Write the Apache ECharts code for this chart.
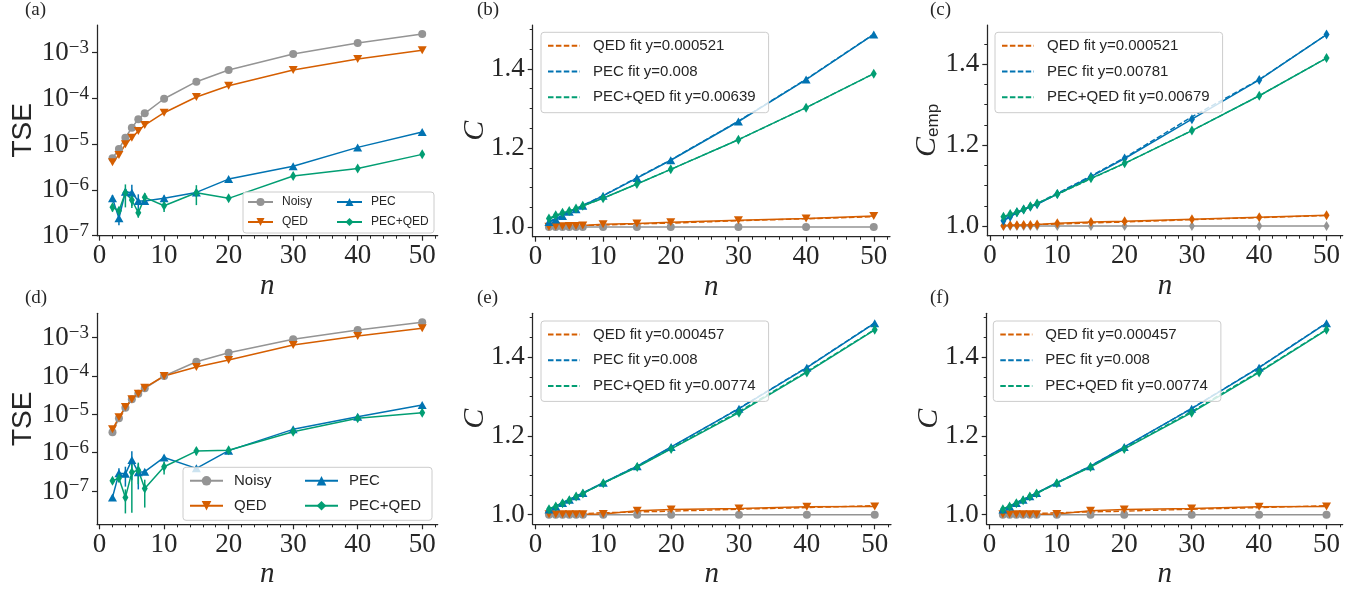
<!DOCTYPE html>
<html><head><meta charset="utf-8">
<script src="https://cdn.jsdelivr.net/npm/echarts@6/dist/echarts.min.js"></script>
<style>html,body{margin:0;padding:0;background:#fff}#c{width:1372px;height:591px}</style>
</head><body><div id="c"></div>
<script>
// ---------------- data ----------------
const nValues = [2, 3, 4, 5, 6, 7, 10, 15, 20, 30, 40, 50];
const xTickLabels = [0, 10, 20, 30, 40, 50];
const xMinorTicks = [2, 4, 6, 8, 12, 14, 16, 18, 22, 24, 26, 28, 32, 34, 36, 38, 42, 44, 46, 48, 52];
const logTickExps = [-7, -6, -5, -4, -3];
const cTickLabels = [1.0, 1.2, 1.4];
const cMinorTicks = [1.05, 1.1, 1.15, 1.25, 1.3, 1.35, 1.45, 1.5];
const seriesNames = ['Noisy', 'QED', 'PEC', 'PEC+QED'];

// (a) TSE
const tseNoisyA = [4.87e-6, 7.8e-6, 1.37e-5, 2.27e-5, 3.46e-5, 4.68e-5, 9.73e-5, 2.29e-4, 4.11e-4, 9.2e-4, 1.6e-3, 2.51e-3];
const tseQedA = [3.98e-6, 5.75e-6, 9.85e-6, 1.37e-5, 1.92e-5, 2.6e-5, 4.82e-5, 1.06e-4, 1.87e-4, 4.11e-4, 7.15e-4, 1.11e-3];
const tsePecA = [6.53e-7, 2.39e-7, 9.1e-7, 8.65e-7, 5.7e-7, 5.7e-7, 6.53e-7, 8.8e-7, 1.72e-6, 3.26e-6, 8.45e-6, 1.83e-5];
const tsePecErrA = [1.2e-7, 0.7e-7, 1.5e-7, 4.2e-7, 2.3e-7, 0.8e-7, 1.0e-7, 1.0e-7, 0.8e-7, 1.2e-7, 3e-7, 6e-7];
const tsePecQedA = [4.15e-7, 3.5e-7, 8.65e-7, 6.0e-7, 3.17e-7, 6.86e-7, 4.5e-7, 8.65e-7, 6.53e-7, 2.0e-6, 2.94e-6, 5.95e-6];
const tsePecQedErrA = [0.8e-7, 0.6e-7, 4.5e-7, 2.0e-7, 0.7e-7, 1.6e-7, 1.2e-7, 4.0e-7, 0.7e-7, 1.5e-7, 2e-7, 4e-7];

// (d) TSE
const tseNoisyD = [3.4e-6, 7.9e-6, 1.49e-5, 2.47e-5, 3.45e-5, 4.78e-5, 1.0e-4, 2.36e-4, 4.06e-4, 9.06e-4, 1.58e-3, 2.52e-3];
const tseQedD = [4.07e-6, 8.36e-6, 1.55e-5, 2.47e-5, 3.45e-5, 4.95e-5, 1.0e-4, 1.72e-4, 2.61e-4, 6.44e-4, 1.11e-3, 1.75e-3];
const tsePecD = [6.8e-8, 2.9e-7, 2.8e-7, 6.4e-7, 3.1e-7, 3.2e-7, 7.5e-7, 3.9e-7, 1.13e-6, 4.06e-6, 8.7e-6, 1.75e-5];
const tsePecErrD = [1.0e-8, 1.0e-7, 1.5e-7, 4.5e-7, 2.0e-7, 0.5e-7, 1.0e-7, 0.5e-7, 0.8e-7, 2e-7, 4e-7, 8e-7];
const tsePecQedD = [1.86e-7, 2.14e-7, 6.8e-8, 3.07e-7, 3.5e-7, 1.17e-7, 4.3e-7, 1.1e-6, 1.16e-6, 3.53e-6, 7.86e-6, 1.1e-5];
const tsePecQedErrD = [0.3e-7, 0.4e-7, 4.2e-8, 2.8e-7, 2.0e-7, 0.8e-7, 1.6e-7, 2.5e-7, 1.0e-7, 2e-7, 3e-7, 5e-7];

// (b) C
const cNoisyB = [1.0, 1.0, 1.0, 1.0, 1.0, 1.0, 1.0, 1.0, 1.0, 1.0, 1.0, 1.0];
const cQedB = [1.001, 1.002, 1.002, 1.003, 1.003, 1.004, 1.007, 1.009, 1.012, 1.017, 1.022, 1.028];
const cPecB = [1.013, 1.019, 1.028, 1.039, 1.045, 1.054, 1.079, 1.124, 1.169, 1.267, 1.373, 1.487];
const cPecQedB = [1.022, 1.030, 1.036, 1.041, 1.047, 1.054, 1.073, 1.109, 1.146, 1.221, 1.302, 1.388];
const fitQedB = [1.001, 1.002, 1.002, 1.003, 1.003, 1.004, 1.005, 1.008, 1.010, 1.016, 1.021, 1.026];
const fitPecB = [1.014, 1.022, 1.030, 1.039, 1.046, 1.055, 1.080, 1.125, 1.170, 1.268, 1.374, 1.488];
const fitPecQedB = [1.020, 1.027, 1.034, 1.040, 1.047, 1.053, 1.073, 1.109, 1.146, 1.221, 1.302, 1.388];

// (c) C_emp
const cNoisyC = [1.0, 1.0, 1.0, 1.0, 1.0, 1.0, 1.0, 1.0, 1.0, 1.0, 1.0, 1.0];
const cQedC = [1.001, 1.002, 1.002, 1.003, 1.003, 1.004, 1.007, 1.010, 1.012, 1.017, 1.022, 1.027];
const cPecC = [1.013, 1.023, 1.034, 1.041, 1.048, 1.054, 1.079, 1.122, 1.167, 1.264, 1.361, 1.473];
const cPecQedC = [1.023, 1.030, 1.034, 1.041, 1.049, 1.056, 1.079, 1.118, 1.155, 1.236, 1.322, 1.415];
const fitQedC = [1.001, 1.002, 1.002, 1.003, 1.003, 1.004, 1.005, 1.008, 1.010, 1.016, 1.021, 1.026];
const fitPecC = [1.016, 1.024, 1.032, 1.040, 1.048, 1.056, 1.081, 1.124, 1.169, 1.270, 1.362, 1.473];
const fitPecQedC = [1.021, 1.028, 1.034, 1.041, 1.048, 1.055, 1.078, 1.117, 1.155, 1.236, 1.322, 1.415];

// (e) and (f) C
const cNoisyE = [1.0, 1.0, 1.0, 1.0, 1.0, 1.0, 1.0, 1.0, 1.0, 1.0, 1.0, 1.0];
const cQedE = [1.001, 1.001, 1.001, 1.001, 1.001, 1.001, 1.002, 1.010, 1.013, 1.016, 1.020, 1.021];
const cPecE = [1.013, 1.021, 1.030, 1.038, 1.047, 1.055, 1.081, 1.123, 1.172, 1.269, 1.373, 1.486];
const cPecQedE = [1.014, 1.021, 1.029, 1.037, 1.046, 1.054, 1.080, 1.121, 1.167, 1.259, 1.361, 1.469];
const fitQedE = [1.001, 1.001, 1.002, 1.002, 1.003, 1.003, 1.005, 1.007, 1.009, 1.014, 1.018, 1.023];
const fitPecE = [1.014, 1.022, 1.031, 1.039, 1.047, 1.055, 1.081, 1.124, 1.171, 1.270, 1.374, 1.487];
const fitPecQedE = [1.015, 1.022, 1.030, 1.038, 1.046, 1.054, 1.080, 1.122, 1.168, 1.262, 1.363, 1.470];

const fitLabelsB = ['QED fit y=0.000521', 'PEC fit y=0.008', 'PEC+QED fit y=0.00639'];
const fitLabelsC = ['QED fit y=0.000521', 'PEC fit y=0.00781', 'PEC+QED fit y=0.00679'];
const fitLabelsE = ['QED fit y=0.000457', 'PEC fit y=0.008', 'PEC+QED fit y=0.00774'];
const panelLetters = ['(a)', '(b)', '(c)', '(d)', '(e)', '(f)'];

// ---------------- style / layout ----------------
const AX = '#262626';
const COL = { noisy: '#949494', qed: '#d55e00', pec: '#0173b2', pecqed: '#029e73' };
const DOWN = 'path://M0,0L10,0L5,8.66Z';
const grids = [
  [97, 25, 340.7, 210.7],
  [532.7, 25, 357.3, 211.7],
  [987.3, 25, 355.4, 210.7],
  [97, 313.3, 340.7, 211],
  [532.7, 313.3, 358.3, 211],
  [986.7, 313.3, 356, 211]
];
const letterPos = [[25, 1], [477, 1], [930, 1], [25, 289], [477, 289], [930, 289]];

const xAxes = [], yAxes = [], series = [], legends = [];

function addX(i) {
  xAxes.push({
    gridIndex: i, type: 'value', min: -0.4, max: 52.4, position: 'bottom',
    axisLine: { show: true, onZero: false, lineStyle: { color: AX, width: 1.25 } },
    axisTick: { show: true, customValues: xTickLabels, length: 5, lineStyle: { color: AX, width: 1.2 } },
    axisLabel: { show: true, customValues: xTickLabels, margin: 7, fontFamily: 'Liberation Serif', fontSize: 27, color: AX },
    splitLine: { show: false },
    name: 'n', nameLocation: 'middle', nameGap: 36, nameMoveOverlap: false,
    nameTextStyle: { fontFamily: 'Liberation Serif', fontStyle: 'italic', fontSize: 29, color: AX }
  });
  xAxes.push({
    gridIndex: i, type: 'value', min: -0.4, max: 52.4, position: 'bottom',
    axisLine: { show: false, onZero: false },
    axisTick: { show: true, customValues: xMinorTicks, length: 3, lineStyle: { color: AX, width: 1 } },
    axisLabel: { show: false }, splitLine: { show: false }
  });
}

function addLogY(i, lo, hi) {
  yAxes.push({
    gridIndex: i, type: 'log', logBase: 10, min: Math.pow(10, lo), max: Math.pow(10, hi), position: 'left',
    axisLine: { show: true, onZero: false, lineStyle: { color: AX, width: 1.25 } },
    axisTick: { show: false }, axisLabel: { show: false }, splitLine: { show: false }, minorTick: { show: false },
    name: 'TSE', nameLocation: 'middle', nameGap: 60, nameMoveOverlap: false,
    nameTextStyle: { fontFamily: 'Liberation Sans', fontSize: 28, color: AX }
  });
  yAxes.push({
    gridIndex: i, type: 'value', min: lo, max: hi, position: 'left',
    axisLine: { show: false, onZero: false },
    axisTick: { show: true, customValues: logTickExps, length: 5, lineStyle: { color: AX, width: 1.2 } },
    axisLabel: {
      show: true, customValues: logTickExps, margin: 8,
      formatter: v => '{b|10}{s|\u2212' + Math.abs(v) + '}',
      rich: {
        b: { fontFamily: 'Liberation Serif', fontSize: 27, color: AX, lineHeight: 28, verticalAlign: 'bottom' },
        s: { fontFamily: 'Liberation Serif', fontSize: 19, color: AX, lineHeight: 20, verticalAlign: 'top' }
      }
    },
    splitLine: { show: false }
  });
}

function addLinY(i, lo, hi, name, nameStyle, gap) {
  yAxes.push({
    gridIndex: i, type: 'value', min: lo, max: hi, position: 'left',
    axisLine: { show: true, onZero: false, lineStyle: { color: AX, width: 1.25 } },
    axisTick: { show: true, customValues: cTickLabels, length: 5, lineStyle: { color: AX, width: 1.2 } },
    axisLabel: { show: true, customValues: cTickLabels, margin: 8, formatter: v => v.toFixed(1), fontFamily: 'Liberation Serif', fontSize: 27, color: AX },
    splitLine: { show: false },
    name: name, nameLocation: 'middle', nameGap: gap, nameMoveOverlap: false, nameTextStyle: nameStyle
  });
  yAxes.push({
    gridIndex: i, type: 'value', min: lo, max: hi, position: 'left',
    axisLine: { show: false, onZero: false },
    axisTick: { show: true, customValues: cMinorTicks, length: 3, lineStyle: { color: AX, width: 1 } },
    axisLabel: { show: false }, splitLine: { show: false }
  });
}

function pts(ys) { return nValues.map((n, k) => [n, ys[k]]); }

function addLine(i, name, ys, color, symbol, size) {
  series.push({
    type: 'line', name: name, xAxisIndex: 2 * i, yAxisIndex: 2 * i, data: pts(ys),
    color: color, lineStyle: { color: color, width: 1.5 }, itemStyle: { color: color },
    symbol: symbol, symbolSize: size, showSymbol: true, showAllSymbol: true,
    silent: true, emphasis: { disabled: true }, animation: false
  });
}

function addFit(i, name, ys, color) {
  series.push({
    type: 'line', name: name, xAxisIndex: 2 * i, yAxisIndex: 2 * i, data: pts(ys),
    color: color, lineStyle: { color: color, width: 1.4, type: [5.5, 2.4] }, itemStyle: { color: color },
    symbol: 'none', silent: true, emphasis: { disabled: true }, animation: false
  });
}

function addErr(i, name, ys, errs, color) {
  series.push({
    type: 'custom', name: name, xAxisIndex: 2 * i, yAxisIndex: 2 * i,
    data: nValues.map((n, k) => [n, ys[k] - errs[k], ys[k] + errs[k]]),
    encode: { x: 0, y: [1, 2] }, silent: true, animation: false,
    renderItem: function (params, api) {
      const p1 = api.coord([api.value(0), api.value(1)]);
      const p2 = api.coord([api.value(0), api.value(2)]);
      return { type: 'line', shape: { x1: p1[0], y1: p1[1], x2: p2[0], y2: p2[1] }, style: { stroke: color, lineWidth: 1.5 } };
    }
  });
}

const legendBox = { backgroundColor: 'rgba(255,255,255,0.8)', borderColor: '#cccccc', borderWidth: 1, borderRadius: 3 };

function tseLegend(left, top, fs, iw, ih, gap, pad, w1, w2, tp) {
  return Object.assign({
    left: left, top: top, orient: 'horizontal', width: (iw + 5 + w1 + tp) + gap + (iw + 5 + w2 + tp) + 6,
    padding: pad, itemGap: gap, itemWidth: iw, itemHeight: ih,
    data: ['Noisy', 'PEC', 'QED', 'PEC+QED'],
    formatter: nm => (nm === 'Noisy' || nm === 'QED') ? '{l|' + nm + '}' : '{r|' + nm + '}',
    textStyle: {
      fontFamily: 'Liberation Sans', fontSize: fs, color: AX,
      rich: {
        l: { width: w1, padding: [0, 0, 0, tp], lineHeight: ih, fontFamily: 'Liberation Sans', fontSize: fs, color: AX },
        r: { width: w2, padding: [0, 0, 0, tp], lineHeight: ih, fontFamily: 'Liberation Sans', fontSize: fs, color: AX }
      }
    }
  }, legendBox);
}

function fitLegend(left, top, names) {
  return Object.assign({
    left: left, top: top, orient: 'vertical', padding: [6, 13, 8, 6], itemGap: 10.7, itemWidth: 32, itemHeight: 12,
    data: names, itemStyle: { opacity: 0 },
    formatter: nm => '{f|' + nm + '}',
    textStyle: {
      fontFamily: 'Liberation Sans', fontSize: 15, color: AX,
      rich: { f: { padding: [0, 0, 0, 8], lineHeight: 12, fontFamily: 'Liberation Sans', fontSize: 15, color: AX } }
    }
  }, legendBox);
}

// ---------------- panels ----------------
for (let i = 0; i < 6; i++) addX(i);

// (a)
addLogY(0, -7, -2.403);
// (b)
const cNameStyle = { fontFamily: 'Liberation Serif', fontStyle: 'italic', fontSize: 30, color: AX };
addLinY(1, 0.9757, 1.511, 'C', cNameStyle, 43);
// (c)
addLinY(2, 0.9763, 1.4967, '{c|C}{e|emp}', {
  color: AX,
  rich: {
    c: { fontFamily: 'Liberation Serif', fontStyle: 'italic', fontSize: 30, lineHeight: 30, verticalAlign: 'bottom', color: AX },
    e: { fontFamily: 'Liberation Sans', fontSize: 17, lineHeight: 17, verticalAlign: 'bottom', color: AX }
  }
}, 45);
// (d)
addLogY(3, -7.869, -2.364);
// (e)
addLinY(4, 0.9757, 1.511, 'C', cNameStyle, 43);
// (f)
addLinY(5, 0.9757, 1.511, 'C', cNameStyle, 43);

// TSE panels
[[0, tseNoisyA, tseQedA, tsePecA, tsePecErrA, tsePecQedA, tsePecQedErrA],
 [3, tseNoisyD, tseQedD, tsePecD, tsePecErrD, tsePecQedD, tsePecQedErrD]].forEach(p => {
  const i = p[0];
  addLine(i, 'Noisy', p[1], COL.noisy, 'circle', 8);
  addLine(i, 'QED', p[2], COL.qed, DOWN, [9, 8]);
  addErr(i, 'PEC err', p[3], p[4], COL.pec);
  addLine(i, 'PEC', p[3], COL.pec, 'triangle', [9, 8]);
  addErr(i, 'PEC+QED err', p[5], p[6], COL.pecqed);
  addLine(i, 'PEC+QED', p[5], COL.pecqed, 'diamond', [6, 10]);
});

// C panels
function cPanel(i, tag, labels, noisy, qed, pec, pecqed, fq, fp, fpq, allDiamond) {
  addFit(i, labels[0], fq, COL.qed);
  addFit(i, labels[1], fp, COL.pec);
  addFit(i, labels[2], fpq, COL.pecqed);
  const dia = 'diamond', ds = [6, 10];
  addLine(i, 'Noisy ' + tag, noisy, COL.noisy, allDiamond ? dia : 'circle', allDiamond ? ds : 8);
  addLine(i, 'QED ' + tag, qed, COL.qed, allDiamond ? dia : DOWN, allDiamond ? ds : [9, 8]);
  addLine(i, 'PEC ' + tag, pec, COL.pec, allDiamond ? dia : 'triangle', allDiamond ? ds : [9, 8]);
  addLine(i, 'PEC+QED ' + tag, pecqed, COL.pecqed, dia, ds);
}
cPanel(1, '(b)', fitLabelsB, cNoisyB, cQedB, cPecB, cPecQedB, fitQedB, fitPecB, fitPecQedB, false);
cPanel(2, '(c)', fitLabelsC, cNoisyC, cQedC, cPecC, cPecQedC, fitQedC, fitPecC, fitPecQedC, true);
cPanel(4, '(e)', fitLabelsE, cNoisyE, cQedE, cPecE, cPecQedE, fitQedE, fitPecE, fitPecQedE, false);
cPanel(5, '(f)', fitLabelsE, cNoisyE, cQedE, cPecE, cPecQedE, fitQedE, fitPecE, fitPecQedE, false);

legends.push(tseLegend(243, 192, 12, 25, 10, 8, [4, 5, 5, 4], 46, 58, 4));
legends.push(tseLegend(183, 467.3, 15, 33, 12, 10, [6, 6, 7, 6], 60, 77, 6));
legends.push(fitLegend(541, 32.3, fitLabelsB));
legends.push(fitLegend(995, 32.3, fitLabelsC));
legends.push(fitLegend(541, 321, fitLabelsE));
legends.push(fitLegend(993.3, 321, fitLabelsE));

const option = {
  animation: false,
  backgroundColor: '#ffffff',
  title: panelLetters.map((t, k) => ({
    text: t, left: letterPos[k][0], top: letterPos[k][1], padding: 0,
    textStyle: { fontFamily: 'Liberation Serif', fontSize: 19, fontWeight: 'normal', color: AX }
  })),
  grid: grids.map(g => ({ left: g[0], top: g[1], width: g[2], height: g[3], containLabel: false, outerBoundsMode: 'none' })),
  xAxis: xAxes,
  yAxis: yAxes,
  legend: legends,
  series: series
};

const chart = echarts.init(document.getElementById('c'), null, { renderer: 'canvas' });
chart.setOption(option);
</script>
</body></html>
